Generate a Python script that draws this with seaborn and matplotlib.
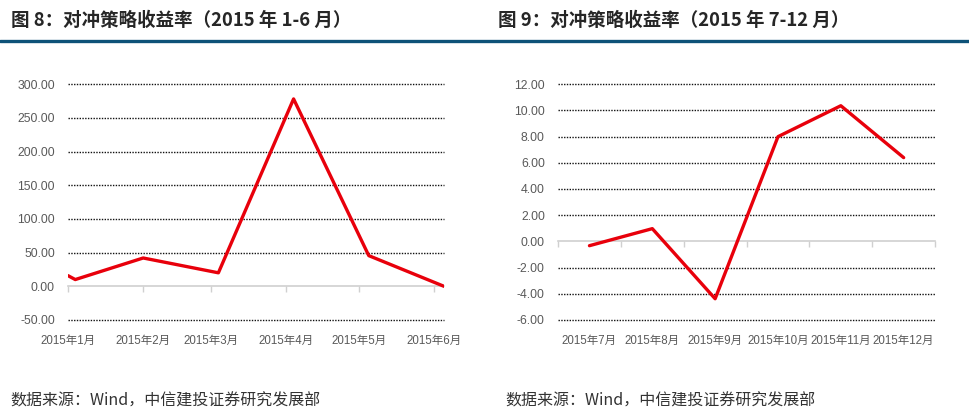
import matplotlib
matplotlib.use("Agg")
import numpy as np
import pandas as pd
import matplotlib.pyplot as plt
import seaborn as sns
from matplotlib.lines import Line2D

# 数据
h1_dates = ["2015-01-01", "2015-01-04", "2015-02-01", "2015-03-04",
            "2015-04-04", "2015-05-05", "2015-06-05"]
h1_values = [15.8, 10.0, 42.0, 20.0, 278.0, 45.5, 0.0]
h1_tick_dates = ["2015-01-01", "2015-02-01", "2015-03-01",
                 "2015-04-01", "2015-05-01", "2015-06-01"]
h1_tick_labels = ["2015年1月", "2015年2月", "2015年3月",
                  "2015年4月", "2015年5月", "2015年6月"]
h1_yticks = [-50, 0, 50, 100, 150, 200, 250, 300]

h2_months = ["2015年7月", "2015年8月", "2015年9月",
             "2015年10月", "2015年11月", "2015年12月"]
h2_values = [-0.33, 0.97, -4.38, 7.99, 10.35, 6.39]
h2_yticks = [-6, -4, -2, 0, 2, 4, 6, 8, 10, 12]

titles = ["图 8：对冲策略收益率（2015 年 1-6 月）",
          "图 9：对冲策略收益率（2015 年 7-12 月）"]
source = "数据来源：Wind，中信建投证券研究发展部"

sns.set_theme(style="white")
plt.rcParams["font.family"] = ["Liberation Sans", "Noto Sans CJK SC"]

RED = "#e8000b"
LABEL = "#595959"
AXIS = "#d0d0d0"

fig = plt.figure(figsize=(9.7, 4.16), dpi=100)
ax1 = fig.add_axes([0.0701, 0.2308, 0.3876, 0.567])
ax2 = fig.add_axes([0.5753, 0.2308, 0.3887, 0.567])

df1 = pd.DataFrame({"date": pd.to_datetime(h1_dates), "value": h1_values})
df2 = pd.DataFrame({"month": h2_months, "value": h2_values})

sns.lineplot(data=df1, x="date", y="value", ax=ax1, color=RED, linewidth=2.4,
             zorder=3)
sns.lineplot(data=df2, x="month", y="value", ax=ax2, color=RED, linewidth=2.4,
             sort=False, zorder=3)

# 横轴
ax1.set_xlim(df1["date"].min(), df1["date"].max())
ax1.set_xticks(pd.to_datetime(h1_tick_dates))
ax1.set_xticklabels(h1_tick_labels)
ax2.set_xlim(-0.5, len(h2_months) - 0.5)

for ax, yt in [(ax1, h1_yticks), (ax2, h2_yticks)]:
    ax.set_ylim(yt[0], yt[-1])
    ax.set_yticks(yt)
    ax.set_yticklabels([f"{v:.2f}" for v in yt])
    ax.set_xlabel("")
    ax.set_ylabel("")
    for s in ax.spines.values():
        s.set_visible(False)
    ax.tick_params(axis="y", length=0, pad=9.5, labelsize=8.8, labelcolor=LABEL)
    ax.tick_params(axis="x", length=0, pad=11, labelsize=8.3, labelcolor=LABEL)
    for v in yt:
        if v != 0:
            ax.axhline(v, color="#111111", lw=1.0, ls=(0, (1, 1)), zorder=1,
                       clip_on=False)
    # 零轴线与刻度
    pos = (0 - yt[0]) / (yt[-1] - yt[0])
    sec = ax.secondary_xaxis(pos)
    sec.spines["bottom"].set_color(AXIS)
    sec.spines["bottom"].set_linewidth(1.2)
    sec.spines["top"].set_visible(False)
    sec.tick_params(axis="x", length=4, width=1, color=AXIS,
                    labelbottom=False, labeltop=False)
    ax._sec = sec

ax1._sec.set_xticks(ax1.get_xticks())
ax2._sec.set_xticks(np.arange(-0.5, len(h2_months), 1.0))

# 标题、分隔线、来源
fig.text(0.011, 0.951, titles[0], fontsize=13.3, fontweight="bold",
         family=["Noto Sans CJK SC"], va="center", ha="left")
fig.text(0.513, 0.951, titles[1], fontsize=13.3, fontweight="bold",
         family=["Noto Sans CJK SC"], va="center", ha="left")
fig.add_artist(Line2D([0, 1], [0.9026, 0.9026], transform=fig.transFigure,
                      color="#0d5278", lw=2.4))
fig.text(0.011, 0.035, source, fontsize=11.5, style="italic", color="#333333",
         family=["Noto Sans CJK SC"], va="center", ha="left")
fig.text(0.521, 0.035, source, fontsize=11.5, style="italic", color="#333333",
         family=["Noto Sans CJK SC"], va="center", ha="left")

fig.savefig("out.png", dpi=100)
